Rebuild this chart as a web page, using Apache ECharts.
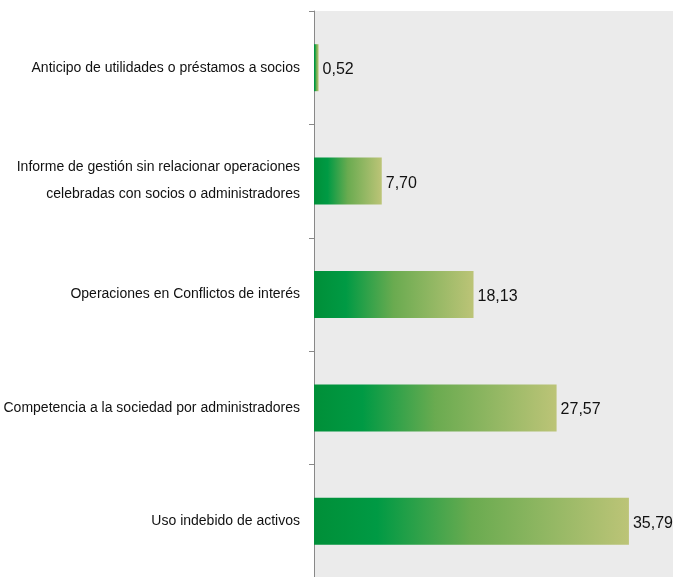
<!DOCTYPE html>
<html><head><meta charset="utf-8">
<script src="https://cdn.jsdelivr.net/npm/echarts@6/dist/echarts.min.js"></script>
<style>html,body{margin:0;padding:0;background:#fff}#c{width:673px;height:577px}</style>
</head><body><div id="c"></div>
<script>
var categories = [
  "Anticipo de utilidades o préstamos a socios",
  "Informe de gestión sin relacionar operaciones\ncelebradas con socios o administradores",
  "Operaciones en Conflictos de interés",
  "Competencia a la sociedad por administradores",
  "Uso indebido de activos"
];
var values = [0.52, 7.70, 18.13, 27.57, 35.79];

var FONT = "'Liberation Sans', Arial, sans-serif";
var grad = new echarts.graphic.LinearGradient(0, 0, 1, 0, [
  {offset: 0, color: '#008f38'},
  {offset: 0.2, color: '#009a44'},
  {offset: 0.5, color: '#6aab50'},
  {offset: 1, color: '#bcc477'}
]);
var chart = echarts.init(document.getElementById('c'), null, {renderer: 'canvas'});
chart.setOption({
  animation: false,
  grid: {left: 314, top: 11, right: 0, bottom: -1, show: true, backgroundColor: '#ebebeb', borderWidth: 0, containLabel: false, outerBoundsMode: 'none'},
  xAxis: {type: 'value', min: 0, max: 40.8, show: false},
  yAxis: {
    type: 'category', data: categories, inverse: true,
    axisLine: {show: true, lineStyle: {color: '#888', width: 1}},
    axisTick: {show: true, length: 5, lineStyle: {color: '#888'}},
    axisLabel: {margin: 14, color: '#111', fontFamily: FONT, fontSize: 14, lineHeight: 27, align: 'right', padding: [7, 0, 0, 0]},
    splitLine: {show: false}
  },
  series: [{
    type: 'bar', data: values, barWidth: 47,
    itemStyle: {color: grad},
    label: {show: true, position: 'right', distance: 4, offset: [0, 2], color: '#111', fontFamily: FONT, fontSize: 16,
      formatter: function(p){ return p.value.toFixed(2).replace('.', ','); }}
  }]
});
</script></body></html>
